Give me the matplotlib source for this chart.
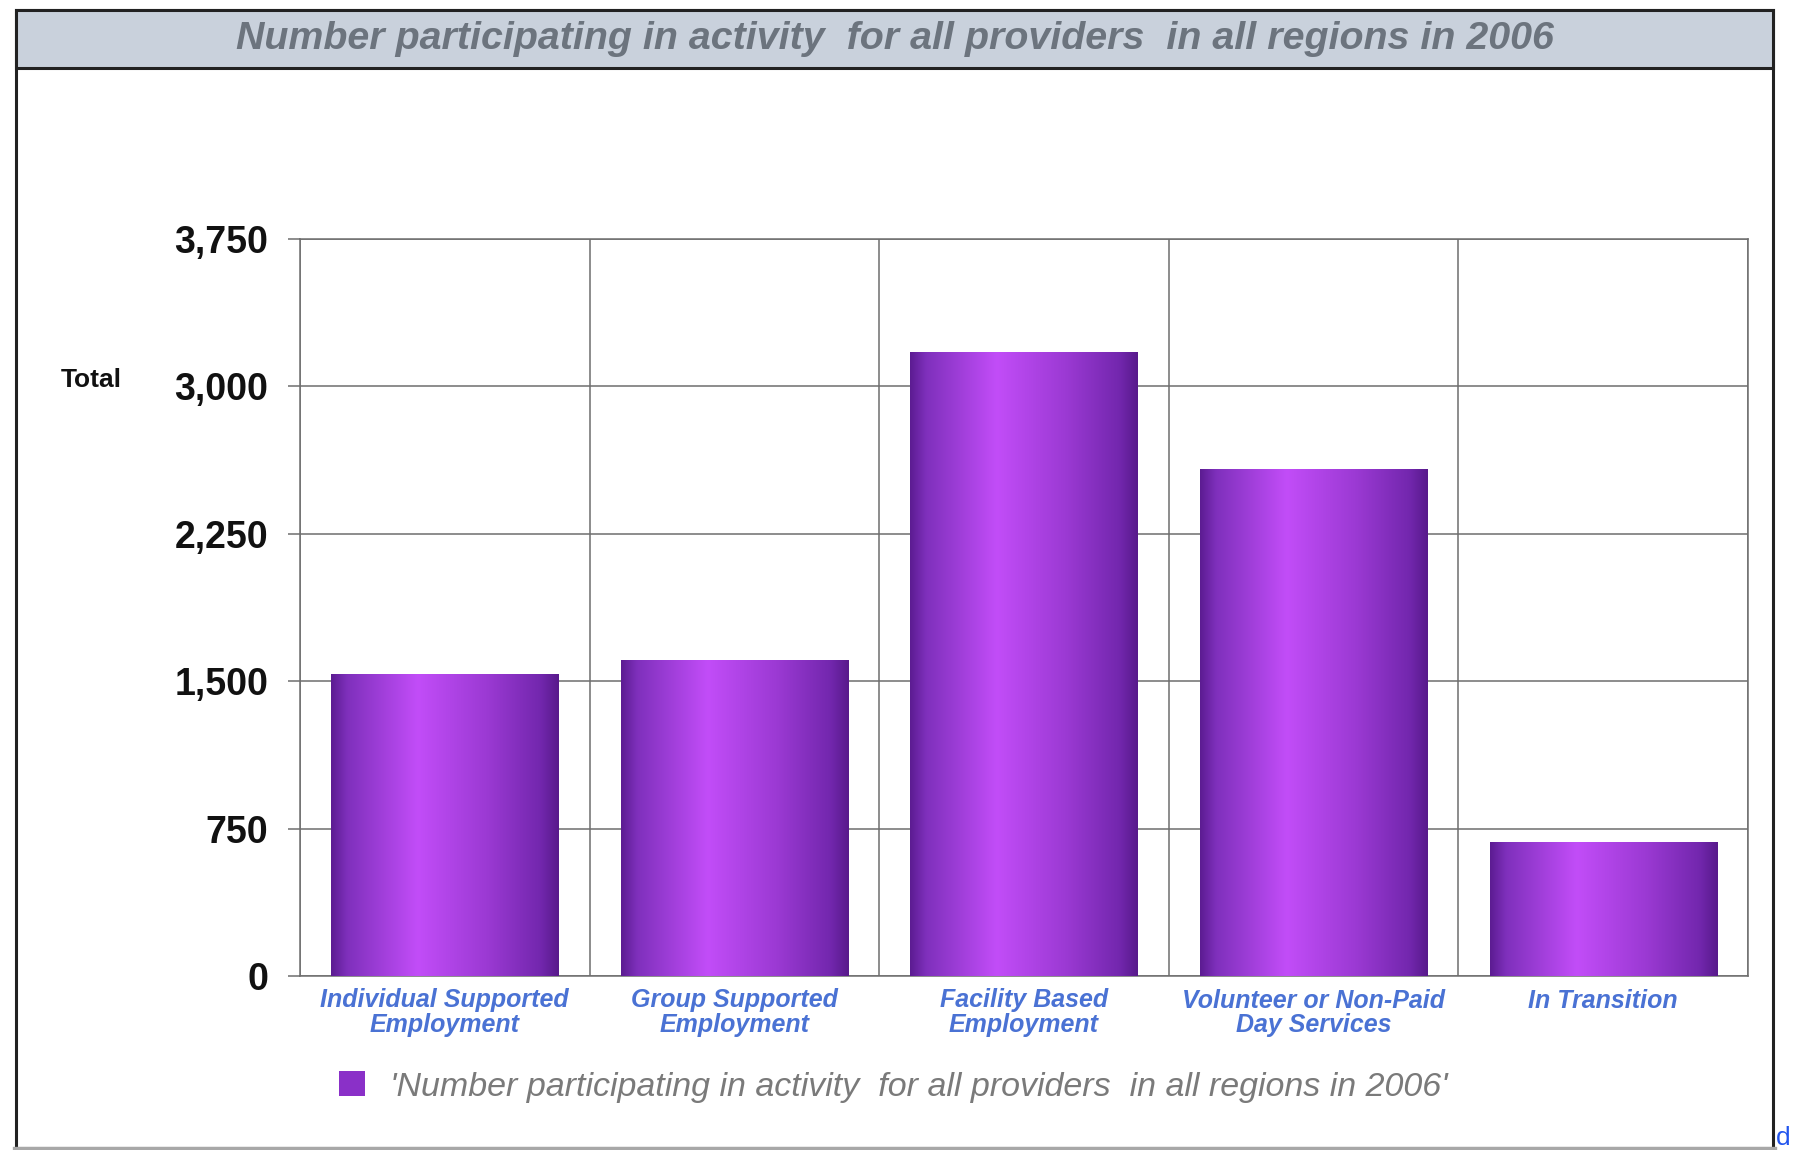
import numpy as np
import matplotlib
matplotlib.use('Agg')
import matplotlib.pyplot as plt
from matplotlib.colors import LinearSegmentedColormap
from matplotlib.patches import Rectangle, Patch
from matplotlib.lines import Line2D
from matplotlib.ticker import FuncFormatter, MultipleLocator

# data
categories = ['Individual Supported\nEmployment', 'Group Supported\nEmployment',
              'Facility Based\nEmployment', 'Volunteer or Non-Paid\nDay Services',
              'In Transition']
totals = [1535, 1605, 3170, 2575, 680]
y_ticks = [0, 750, 1500, 2250, 3000, 3750]

title = 'Number participating in activity  for all providers  in all regions in 2006'
legend_label = "'" + title + "'"

W, H = 1798, 1150
plt.rcParams['font.family'] = ['Liberation Sans', 'DejaVu Sans']

fig = plt.figure(figsize=(W / 100, H / 100), dpi=100)
fig.patch.set_facecolor('white')


def fx(px):
    return px / W


def fy(py):
    return 1 - py / H


# outer frame and title band
fig.add_artist(Rectangle((fx(16), fy(1148)), fx(1773) - fx(16), fy(10) - fy(1148),
                         transform=fig.transFigure, facecolor='white',
                         edgecolor='#222222', lw=2.2, zorder=0))
fig.add_artist(Line2D([fx(14), fx(1775)], [fy(1148), fy(1148)],
                      transform=fig.transFigure, color='#A8A8A8', lw=2.4, zorder=0.5))
fig.add_artist(Rectangle((fx(16), fy(68)), fx(1773) - fx(16), fy(10) - fy(68),
                         transform=fig.transFigure, facecolor='#C9D1DC',
                         edgecolor='#222222', lw=2.2, zorder=1))
fig.text(fx(895), fy(39), title, ha='center', va='center', fontsize=28.4,
         fontweight='bold', style='italic', color='#6C747E')

ax = fig.add_axes([fx(300), fy(976), fx(1748) - fx(300), fy(239) - fy(976)])
ax.set_facecolor('white')

bar_color = '#8A30C8'
bars = ax.bar(range(len(totals)), totals, width=0.785, color=bar_color,
              zorder=2, label=legend_label)

# cylinder-like horizontal shading on each bar
shade = LinearSegmentedColormap.from_list('shade', [
    (0.0, '#5C1C92'), (0.07, '#7F30BC'), (0.38, '#C24DF8'),
    (0.68, '#9C3AD4'), (0.92, '#7327AE'), (1.0, '#581A8C')])
grad = np.linspace(0, 1, 256).reshape(1, -1)
for b in bars:
    ax.imshow(grad, cmap=shade, aspect='auto', zorder=3, interpolation='bicubic',
              extent=[b.get_x(), b.get_x() + b.get_width(), 0, b.get_height()])

ax.set_xlim(-0.5, len(totals) - 0.5)
ax.set_ylim(0, 3750)
ax.set_yticks(y_ticks)
ax.yaxis.set_major_formatter(FuncFormatter(lambda v, p: f'{int(v):,}'))
ax.set_xticks(range(len(categories)))
ax.set_xticklabels(categories, fontsize=18, fontweight='bold', style='italic',
                   color='#4A72D4', linespacing=1.05)
ax.xaxis.set_minor_locator(MultipleLocator(1, offset=0.5))

grid_color = '#6E6E6E'
ax.grid(axis='y', which='major', color=grid_color, lw=1.1, zorder=1)
ax.grid(axis='x', which='minor', color=grid_color, lw=1.1, zorder=1)
ax.grid(axis='x', which='major', visible=False)
for s in ax.spines.values():
    s.set_color(grid_color)
    s.set_linewidth(1.1)
ax.tick_params(axis='y', length=9, width=1.1, color=grid_color, pad=14,
               labelsize=27, labelcolor='#111111')
for lab in ax.get_yticklabels():
    lab.set_fontweight('bold')
ax.tick_params(axis='x', which='both', length=0, pad=9)

ax.set_ylabel('Total', rotation=0, fontsize=19, fontweight='bold',
              color='#111111', ha='center', va='center')
ax.yaxis.set_label_coords(-0.144, 0.809)

handle = Patch(facecolor=bar_color, edgecolor='none')
fig.legend([handle], [legend_label], loc='center left',
           bbox_to_anchor=(fx(339), fy(1087)), frameon=False,
           borderpad=0, borderaxespad=0, handlelength=0.76, handleheight=0.76,
           handletextpad=0.73, prop={'size': 24.5, 'style': 'italic'},
           labelcolor='#7A7A7A')

fig.text(fx(1776), fy(1150), 'd', ha='left', va='bottom', fontsize=19,
         color='#2255EE')

fig.savefig('out.png', dpi=100)
